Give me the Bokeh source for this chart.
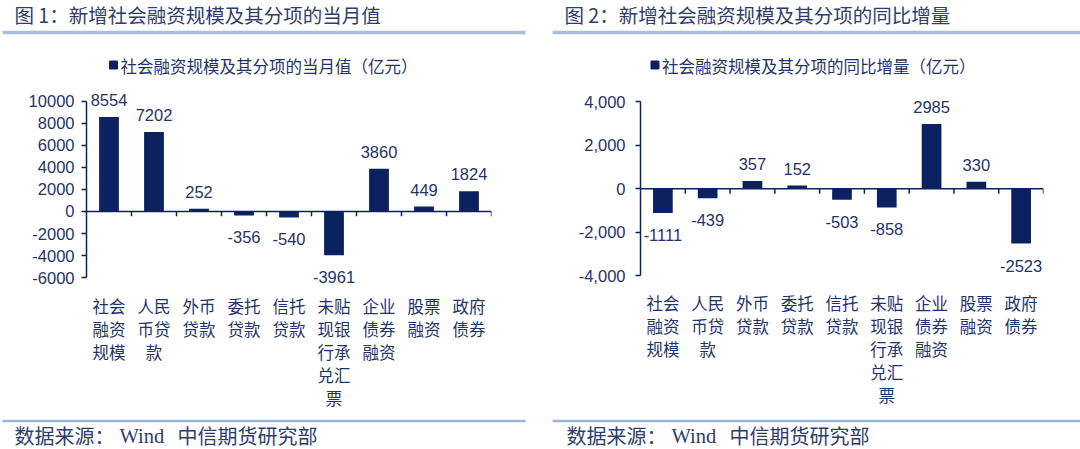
from bokeh.plotting import figure
from bokeh.models import Range1d, FactorRange, FixedTicker, Span, ColumnDataSource
from bokeh.layouts import row, column
from bokeh.transform import dodge
from bokeh.core.properties import value
from bokeh.embed import file_html
from bokeh.resources import INLINE

# ---------------- data ----------------
categories = ["社会\n融资\n规模", "人民\n币贷\n款", "外币\n贷款", "委托\n贷款", "信托\n贷款",
              "未贴\n现银\n行承\n兑汇\n票", "企业\n债券\n融资", "股票\n融资", "政府\n债券"]
monthly_values = [8554, 7202, 252, -356, -540, -3961, 3860, 449, 1824]
yoy_values = [-1111, -439, 357, 152, -503, -858, 2985, 330, -2523]

left_ticks = [-6000, -4000, -2000, 0, 2000, 4000, 6000, 8000, 10000]
left_tick_labels = ["-6000", "-4000", "-2000", "0", "2000", "4000", "6000", "8000", "10000"]
right_ticks = [-4000, -2000, 0, 2000, 4000]
right_tick_labels = ["-4,000", "-2,000", "0", "2,000", "4,000"]

left_title = "图 1：新增社会融资规模及其分项的当月值"
right_title = "图 2：新增社会融资规模及其分项的同比增量"
left_legend = "社会融资规模及其分项的当月值（亿元）"
right_legend = "社会融资规模及其分项的同比增量（亿元）"
source_parts = ["数据来源：", "Wind", "中信期货研究部"]

# ---------------- styles ----------------
BAR = "#0C2260"
NAVY = "#1F3468"
TITLE_C = "#2E3D6B"
SEP_TOP = "#A9C0DA"
SEP_BOT = "#9AB5D6"
CJK = "Noto Sans CJK SC"
NUM = "Liberation Sans"
SERIF = "Liberation Serif"

W = 540
HEAD_H = 88
CHART_H = 324
FOOT_H = 449 - HEAD_H - CHART_H


def blank(h):
    f = figure(width=W, height=h, x_range=Range1d(0, W), y_range=Range1d(h, 0),
               output_backend="svg", toolbar_location=None, min_border=0)
    f.axis.visible = False
    f.grid.visible = False
    f.outline_line_color = None
    return f


def header(title, legend, title_x, line_x0, line_x1, sq_x):
    h = blank(HEAD_H)
    h.text(x=[title_x], y=[14], text=[title], text_font=value(CJK), text_font_size="19.5px",
           text_color=TITLE_C, text_baseline="middle", text_align="left")
    h.segment(x0=[line_x0], y0=[32], x1=[line_x1], y1=[32], line_color=SEP_TOP, line_width=3.5)
    h.scatter(x=[sq_x], y=[64.5], marker="square", size=8, fill_color=BAR, line_color=BAR)
    h.text(x=[sq_x + 7], y=[65], text=[legend], text_font=value(CJK), text_font_size="16.5px",
           text_color=NAVY, text_baseline="middle", text_align="left")
    return h


def footer(line_x0, line_x1, text_x):
    f = blank(FOOT_H)
    f.segment(x0=[line_x0], y0=[8.5], x1=[line_x1], y1=[8.5], line_color=SEP_BOT, line_width=2.5)
    f.text(x=[text_x], y=[23], text=[source_parts[0]], text_font=value(CJK), text_font_size="20px",
           text_color=TITLE_C, text_baseline="middle", text_align="left")
    f.text(x=[text_x + 105], y=[23], text=[source_parts[1]], text_font=value(SERIF), text_font_size="20.5px",
           text_color=TITLE_C, text_baseline="middle", text_align="left")
    f.text(x=[text_x + 163], y=[23], text=[source_parts[2]], text_font=value(CJK), text_font_size="20px",
           text_color=TITLE_C, text_baseline="middle", text_align="left")
    return f


def chart(vals, ticks, tick_labels, yr, border_l, border_r, px_per_unit, lab_standoff, tick_standoff):
    p = figure(width=W, height=CHART_H, x_range=FactorRange(*categories), y_range=Range1d(*yr),
               output_backend="svg", toolbar_location=None,
               min_border_left=border_l, min_border_right=border_r, min_border_top=1,
               min_border_bottom=120)
    p.grid.visible = False
    p.outline_line_color = None
    p.background_fill_color = "white"

    src = ColumnDataSource(dict(cat=categories, val=vals))
    p.vbar(x="cat", top="val", bottom=0, width=0.44, source=src, fill_color=BAR, line_color=None)

    p.add_layout(Span(location=0, dimension="width", line_color=BAR, line_width=1.5))
    tick_len = 5 / px_per_unit
    bsrc = ColumnDataSource(dict(cat=categories, y0=[0] * len(categories), y1=[-tick_len] * len(categories)))
    p.segment(x0=dodge("cat", 0.5, range=p.x_range), y0="y0", x1=dodge("cat", 0.5, range=p.x_range),
              y1="y1", source=bsrc, line_color=BAR, line_width=1.5)

    pos = ColumnDataSource(dict(cat=[c for c, v in zip(categories, vals) if v >= 0],
                                val=[v for v in vals if v >= 0],
                                lab=[str(v) for v in vals if v >= 0]))
    neg = ColumnDataSource(dict(cat=[c for c, v in zip(categories, vals) if v < 0],
                                val=[v for v in vals if v < 0],
                                lab=[str(v) for v in vals if v < 0]))
    p.text(x="cat", y="val", text="lab", source=pos, y_offset=-17, text_align="center",
           text_baseline="middle", text_font=value(NUM), text_font_size="16.5px", text_color=NAVY)
    p.text(x="cat", y="val", text="lab", source=neg, y_offset=22, text_align="center",
           text_baseline="middle", text_font=value(NUM), text_font_size="16.5px", text_color=NAVY)

    ya = p.yaxis[0]
    ya.ticker = FixedTicker(ticks=ticks)
    ya.major_label_overrides = {t: l for t, l in zip(ticks, tick_labels)}
    ya.bounds = (ticks[0], ticks[-1])
    ya.axis_line_color = BAR
    ya.axis_line_width = 1.5
    ya.major_tick_line_color = BAR
    ya.major_tick_line_width = 1.5
    ya.major_tick_in = 0
    ya.major_tick_out = 5
    ya.minor_tick_line_color = None
    ya.major_label_standoff = tick_standoff
    ya.major_label_text_font = NUM
    ya.major_label_text_font_size = "16.5px"
    ya.major_label_text_color = NAVY

    xa = p.xaxis[0]
    xa.axis_line_color = None
    xa.major_tick_line_color = None
    xa.minor_tick_line_color = None
    xa.major_label_standoff = lab_standoff
    xa.major_label_text_font = CJK
    xa.major_label_text_font_size = "16.5px"
    xa.major_label_text_color = NAVY
    xa.major_label_text_line_height = 0.96
    return p


left_chart = chart(monthly_values, left_ticks, left_tick_labels, (-6609, 11043),
                   86, 49, 0.0115, 3, 7)
right_chart = chart(yoy_values, right_ticks, right_tick_labels, (-4407, 4575),
                    100, 37, 0.0226, 0, 10)

layout = column(
    row(header(left_title, left_legend, 14, 2, 525, 113),
        header(right_title, right_legend, 24, 12, 540, 114.5), spacing=0),
    row(left_chart, right_chart, spacing=0),
    row(footer(2, 525, 14), footer(12, 540, 26), spacing=0),
    spacing=0)

html = file_html(layout, INLINE, title="chart")
with open("out.html", "w") as fh:
    fh.write(html)
